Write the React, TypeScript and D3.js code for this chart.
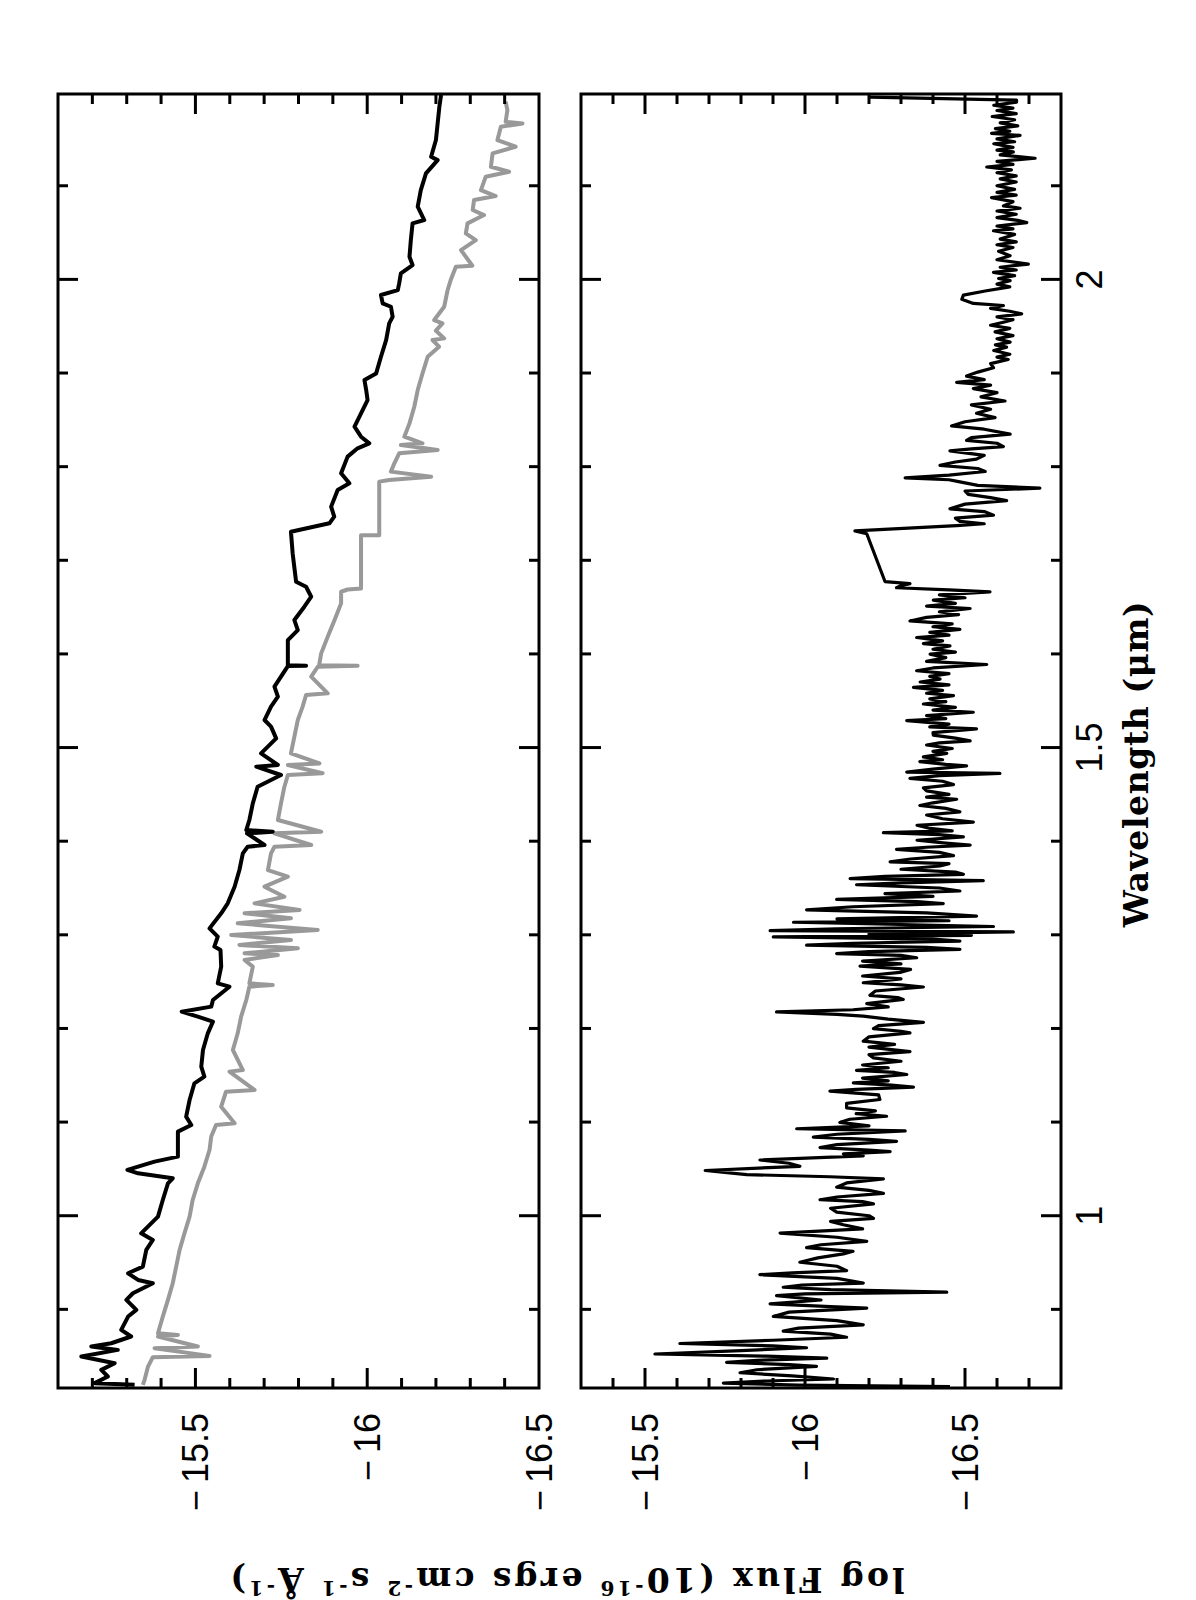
import React from "react";
import * as d3 from "d3";

// ---------- DATA (wavelength in micron, log flux) ----------
const topBlack: [number, number][] = [
  [2.197, -16.215], [2.1843, -16.21], [2.1666, -16.205], [2.1488, -16.2], [2.131, -16.186],
  [2.1274, -16.205], [2.1132, -16.171], [2.0954, -16.156], [2.0776, -16.147], [2.0634, -16.166],
  [2.0598, -16.132], [2.042, -16.127], [2.0242, -16.123], [2.0153, -16.132], [2.0064, -16.098],
  [1.9957, -16.093], [1.9886, -16.089], [1.9833, -16.04], [1.9744, -16.045], [1.9708, -16.069],
  [1.9601, -16.074], [1.953, -16.064], [1.9352, -16.055], [1.9174, -16.04], [1.8996, -16.026],
  [1.8925, -15.992], [1.8818, -15.997], [1.8711, -16.001], [1.8569, -15.982], [1.8427, -15.963],
  [1.832, -15.982], [1.8249, -16.006], [1.8196, -15.972], [1.8107, -15.943], [1.7929, -15.924],
  [1.7822, -15.948], [1.775, -15.914], [1.7573, -15.895], [1.7466, -15.904], [1.7395, -15.89],
  [1.7305, -15.778], [1.7073, -15.783], [1.6771, -15.793], [1.6717, -15.822], [1.6611, -15.837],
  [1.6504, -15.817], [1.6362, -15.788], [1.6255, -15.798], [1.6148, -15.769], [1.6006, -15.769],
  [1.5878, -15.769], [1.5874, -15.822], [1.587, -15.769], [1.5757, -15.749], [1.565, -15.73],
  [1.5543, -15.74], [1.5437, -15.72], [1.5294, -15.701], [1.5223, -15.72], [1.5098, -15.735],
  [1.4938, -15.691], [1.4814, -15.74], [1.4796, -15.677], [1.4707, -15.749], [1.4582, -15.681],
  [1.4404, -15.667], [1.4226, -15.657], [1.4119, -15.648], [1.4101, -15.725], [1.4084, -15.65],
  [1.3959, -15.701], [1.3941, -15.652], [1.387, -15.638], [1.3692, -15.628], [1.3514, -15.614],
  [1.3336, -15.594], [1.323, -15.575], [1.3069, -15.541], [1.298, -15.565], [1.2874, -15.555],
  [1.2837, -15.573], [1.266, -15.575], [1.2482, -15.565], [1.2446, -15.599], [1.2304, -15.551],
  [1.2233, -15.546], [1.2179, -15.46], [1.2126, -15.507], [1.2073, -15.551], [1.1948, -15.536],
  [1.177, -15.522], [1.1592, -15.517], [1.1485, -15.526], [1.1414, -15.497], [1.1236, -15.483],
  [1.1058, -15.473], [1.0969, -15.488], [1.0898, -15.449], [1.0702, -15.449], [1.0631, -15.449],
  [1.0578, -15.381], [1.0489, -15.302], [1.0453, -15.333], [1.04, -15.434], [1.0346, -15.42],
  [1.0168, -15.405], [0.999, -15.391], [0.9812, -15.342], [0.9741, -15.376], [0.9635, -15.357],
  [0.9457, -15.347], [0.9385, -15.304], [0.9314, -15.333], [0.9279, -15.376], [0.9172, -15.318],
  [0.9101, -15.299], [0.8994, -15.328], [0.8923, -15.304], [0.8781, -15.284], [0.871, -15.313],
  [0.8638, -15.255], [0.8603, -15.197], [0.8567, -15.274], [0.8496, -15.168], [0.8425, -15.265],
  [0.8354, -15.226], [0.8283, -15.245], [0.8212, -15.207], [0.8194, -15.323],
];

const topGray: [number, number][] = [
  [2.1897, -16.403], [2.1808, -16.408], [2.1684, -16.403], [2.1666, -16.452], [2.163, -16.389],
  [2.1488, -16.379], [2.1417, -16.432], [2.1346, -16.365], [2.1203, -16.36], [2.115, -16.413],
  [2.1097, -16.345], [2.0954, -16.331], [2.089, -16.374], [2.0848, -16.311], [2.0741, -16.307],
  [2.0687, -16.34], [2.0598, -16.292], [2.0491, -16.287], [2.042, -16.316], [2.0313, -16.273],
  [2.0146, -16.306], [2.0135, -16.258], [1.9993, -16.243], [1.9886, -16.234], [1.9708, -16.224],
  [1.9566, -16.195], [1.953, -16.219], [1.9452, -16.2], [1.937, -16.224], [1.9352, -16.19],
  [1.9281, -16.209], [1.9174, -16.176], [1.8996, -16.161], [1.8818, -16.147], [1.864, -16.137],
  [1.8462, -16.123], [1.832, -16.108], [1.8249, -16.161], [1.8231, -16.098], [1.8178, -16.205],
  [1.8142, -16.093], [1.8036, -16.079], [1.7947, -16.069], [1.7893, -16.186], [1.7858, -16.064],
  [1.784, -16.035], [1.7268, -16.035], [1.7268, -15.982], [1.6699, -15.982], [1.6688, -15.943],
  [1.6664, -15.924], [1.654, -15.924], [1.6362, -15.905], [1.6184, -15.885], [1.6006, -15.866],
  [1.5878, -15.86], [1.5874, -15.972], [1.5863, -15.856], [1.5757, -15.837], [1.5579, -15.885],
  [1.5561, -15.822], [1.5437, -15.812], [1.5294, -15.798], [1.5116, -15.788], [1.4938, -15.778],
  [1.4831, -15.861], [1.4814, -15.769], [1.4725, -15.87], [1.4707, -15.769], [1.4582, -15.759],
  [1.4404, -15.749], [1.4226, -15.74], [1.4101, -15.866], [1.4084, -15.73], [1.3959, -15.837],
  [1.3941, -15.73], [1.387, -15.72], [1.3692, -15.711], [1.3621, -15.769], [1.3514, -15.701],
  [1.3407, -15.759], [1.3336, -15.672], [1.3265, -15.803], [1.323, -15.643], [1.3176, -15.778],
  [1.3123, -15.623], [1.3052, -15.856], [1.2998, -15.604], [1.2945, -15.778], [1.2892, -15.628],
  [1.2856, -15.798], [1.2803, -15.643], [1.2784, -15.74], [1.2731, -15.643], [1.266, -15.667],
  [1.2482, -15.657], [1.2464, -15.725], [1.2446, -15.657], [1.2304, -15.648], [1.2126, -15.633],
  [1.1948, -15.623], [1.177, -15.609], [1.1556, -15.638], [1.1539, -15.599], [1.1343, -15.672],
  [1.1325, -15.589], [1.1165, -15.575], [1.0987, -15.614], [1.0969, -15.56], [1.0845, -15.546],
  [1.0702, -15.541], [1.0524, -15.526], [1.0346, -15.507], [1.0168, -15.492], [0.999, -15.483],
  [0.9812, -15.468], [0.9635, -15.454], [0.9457, -15.444], [0.9279, -15.434], [0.9101, -15.42],
  [0.8923, -15.405], [0.8745, -15.391], [0.8727, -15.449], [0.871, -15.391], [0.8603, -15.507],
  [0.8585, -15.381], [0.8503, -15.541], [0.8489, -15.376], [0.8389, -15.362], [0.8247, -15.352],
  [0.8194, -15.347],
];

const bottomBlack: [number, number][] = [
  [2.1946, -16.203], [2.1915, -16.661], [2.1893, -16.661], [2.186, -16.59], [2.183, -16.65],
  [2.1804, -16.6], [2.177, -16.66], [2.174, -16.585], [2.1705, -16.655], [2.1671, -16.61],
  [2.164, -16.665], [2.161, -16.595], [2.1582, -16.64], [2.156, -16.583], [2.1538, -16.672],
  [2.15, -16.6], [2.147, -16.655], [2.1449, -16.59], [2.141, -16.65], [2.138, -16.6],
  [2.1361, -16.651], [2.133, -16.61], [2.1294, -16.719], [2.126, -16.6], [2.1228, -16.65],
  [2.12, -16.568], [2.117, -16.645], [2.1139, -16.6], [2.1105, -16.66], [2.1073, -16.61],
  [2.104, -16.66], [2.1, -16.6], [2.0962, -16.655], [2.093, -16.6], [2.09, -16.66],
  [2.0873, -16.583], [2.083, -16.65], [2.0785, -16.62], [2.076, -16.672], [2.073, -16.6],
  [2.0696, -16.66], [2.066, -16.6], [2.063, -16.665], [2.0607, -16.693], [2.057, -16.6],
  [2.054, -16.65], [2.0519, -16.589], [2.048, -16.655], [2.043, -16.61], [2.04, -16.66],
  [2.037, -16.6], [2.0341, -16.65], [2.03, -16.605], [2.0253, -16.641], [2.021, -16.6],
  [2.0164, -16.698], [2.013, -16.61], [2.01, -16.66], [2.0075, -16.589], [2.004, -16.655],
  [2.001, -16.605], [1.9987, -16.641], [1.995, -16.6], [1.992, -16.64], [1.9876, -16.563],
  [1.9832, -16.495], [1.9787, -16.49], [1.9743, -16.526], [1.9721, -16.62], [1.969, -16.58],
  [1.966, -16.64], [1.9632, -16.677], [1.96, -16.6], [1.957, -16.65], [1.9543, -16.62],
  [1.951, -16.58], [1.9477, -16.64], [1.944, -16.594], [1.94, -16.65], [1.9366, -16.6],
  [1.933, -16.641], [1.93, -16.595], [1.9277, -16.63], [1.924, -16.59], [1.92, -16.64],
  [1.917, -16.6], [1.9145, -16.635], [1.91, -16.58], [1.9056, -16.589], [1.901, -16.54],
  [1.8967, -16.505], [1.893, -16.56], [1.8901, -16.474], [1.887, -16.58], [1.8834, -16.526],
  [1.879, -16.6], [1.8746, -16.55], [1.8701, -16.625], [1.866, -16.52], [1.8613, -16.58],
  [1.857, -16.536], [1.8524, -16.594], [1.848, -16.5], [1.8435, -16.458], [1.84, -16.56],
  [1.8347, -16.641], [1.831, -16.52], [1.828, -16.505], [1.825, -16.6], [1.8214, -16.62],
  [1.819, -16.52], [1.8169, -16.453], [1.812, -16.56], [1.8081, -16.536], [1.805, -16.47],
  [1.8014, -16.422], [1.798, -16.54], [1.7948, -16.563], [1.791, -16.45], [1.7881, -16.313],
  [1.786, -16.45], [1.7837, -16.484], [1.78, -16.54], [1.777, -16.734], [1.774, -16.5],
  [1.7704, -16.51], [1.767, -16.58], [1.7637, -16.63], [1.76, -16.5], [1.7549, -16.453],
  [1.752, -16.56], [1.7482, -16.589], [1.745, -16.47], [1.7416, -16.484], [1.739, -16.56],
  [1.7371, -16.474], [1.7314, -16.156], [1.7283, -16.193], [1.6773, -16.25], [1.6751, -16.328],
  [1.673, -16.3], [1.6707, -16.286], [1.6685, -16.45], [1.6662, -16.578], [1.663, -16.42],
  [1.66, -16.5], [1.6574, -16.401], [1.654, -16.47], [1.651, -16.38], [1.6485, -16.516],
  [1.645, -16.42], [1.642, -16.48], [1.639, -16.38], [1.6352, -16.328], [1.632, -16.46],
  [1.629, -16.4], [1.6263, -16.484], [1.623, -16.39], [1.62, -16.45], [1.6175, -16.349],
  [1.614, -16.43], [1.611, -16.37], [1.6086, -16.453], [1.605, -16.4], [1.602, -16.47],
  [1.5997, -16.391], [1.596, -16.44], [1.592, -16.38], [1.5887, -16.568], [1.585, -16.4],
  [1.582, -16.349], [1.579, -16.45], [1.576, -16.39], [1.5731, -16.422], [1.57, -16.36],
  [1.567, -16.45], [1.5643, -16.339], [1.561, -16.43], [1.558, -16.38], [1.5554, -16.464],
  [1.552, -16.39], [1.549, -16.44], [1.5465, -16.37], [1.543, -16.47], [1.54, -16.4],
  [1.5377, -16.526], [1.534, -16.38], [1.531, -16.44], [1.5288, -16.318], [1.525, -16.45],
  [1.522, -16.39], [1.5199, -16.536], [1.516, -16.4], [1.5133, -16.401], [1.51, -16.47],
  [1.5071, -16.516], [1.505, -16.42], [1.5027, -16.38], [1.499, -16.46], [1.496, -16.4],
  [1.4938, -16.443], [1.49, -16.37], [1.487, -16.43], [1.4849, -16.359], [1.482, -16.44],
  [1.4804, -16.505], [1.477, -16.4], [1.4737, -16.318], [1.4724, -16.609], [1.47, -16.42],
  [1.467, -16.328], [1.464, -16.43], [1.4604, -16.464], [1.457, -16.37], [1.4537, -16.38],
  [1.45, -16.45], [1.447, -16.38], [1.4448, -16.474], [1.441, -16.4], [1.4381, -16.359],
  [1.435, -16.44], [1.4314, -16.484], [1.428, -16.38], [1.424, -16.43], [1.4203, -16.526],
  [1.417, -16.35], [1.4136, -16.391], [1.411, -16.46], [1.4091, -16.245], [1.407, -16.42],
  [1.4047, -16.495], [1.401, -16.35], [1.398, -16.44], [1.3958, -16.516], [1.3935, -16.38],
  [1.3913, -16.286], [1.388, -16.42], [1.3846, -16.464], [1.381, -16.33], [1.378, -16.266],
  [1.376, -16.45], [1.3735, -16.422], [1.37, -16.3], [1.367, -16.47], [1.3646, -16.495],
  [1.3625, -16.25], [1.3601, -16.141], [1.3579, -16.557], [1.3555, -16.3], [1.3535, -16.161],
  [1.35, -16.42], [1.3468, -16.484], [1.344, -16.25], [1.341, -16.4], [1.3379, -16.099],
  [1.3355, -16.35], [1.3334, -16.432], [1.33, -16.15], [1.3267, -16.005], [1.3235, -16.38],
  [1.32, -16.536], [1.317, -16.1], [1.315, -16.45], [1.3134, -15.964], [1.311, -16.3],
  [1.3089, -16.589], [1.3065, -16.1], [1.3044, -15.891], [1.3031, -16.651], [1.301, -16.2],
  [1.2995, -16.52], [1.2978, -15.901], [1.2955, -16.4], [1.2933, -16.484], [1.291, -16.15],
  [1.2889, -16.005], [1.2865, -16.38], [1.2844, -16.484], [1.282, -16.2], [1.28, -16.099],
  [1.278, -16.3], [1.2755, -16.349], [1.272, -16.18], [1.269, -16.3], [1.2666, -16.172],
  [1.263, -16.33], [1.2599, -16.297], [1.256, -16.18], [1.253, -16.3], [1.2488, -16.182],
  [1.2465, -16.3], [1.2443, -16.37], [1.24, -16.22], [1.2354, -16.203], [1.233, -16.29],
  [1.231, -16.307], [1.2265, -16.193], [1.223, -16.26], [1.22, -16.15], [1.2176, -15.911],
  [1.215, -16.1], [1.2131, -16.182], [1.21, -16.26], [1.2065, -16.37], [1.203, -16.23],
  [1.1998, -16.214], [1.197, -16.3], [1.1953, -16.328], [1.191, -16.2], [1.1864, -16.182],
  [1.183, -16.28], [1.18, -16.2], [1.1753, -16.328], [1.172, -16.2], [1.1686, -16.214],
  [1.165, -16.3], [1.161, -16.18], [1.158, -16.26], [1.1552, -16.161], [1.153, -16.28],
  [1.1508, -16.318], [1.147, -16.18], [1.144, -16.26], [1.1419, -16.151], [1.1395, -16.27],
  [1.1374, -16.339], [1.135, -16.16], [1.133, -16.078], [1.129, -16.23], [1.1241, -16.234],
  [1.12, -16.13], [1.1151, -16.13], [1.112, -16.22], [1.109, -16.16], [1.1062, -16.255],
  [1.103, -16.14], [1.0996, -16.109], [1.096, -16.2], [1.0929, -15.974], [1.0906, -16.313],
  [1.087, -16.1], [1.084, -16.026], [1.0815, -16.2], [1.0795, -16.286], [1.076, -16.1],
  [1.0728, -16.047], [1.07, -16.2], [1.0684, -16.266], [1.066, -16.12], [1.0639, -16.182],
  [1.0595, -15.859], [1.056, -15.95], [1.0528, -15.984], [1.0483, -15.688], [1.0439, -15.818],
  [1.0416, -16.078], [1.0394, -16.245], [1.035, -16.13], [1.0305, -16.099], [1.027, -16.2],
  [1.0238, -16.245], [1.02, -16.1], [1.0171, -16.047], [1.015, -16.18], [1.0127, -16.214],
  [1.008, -16.08], [1.0038, -16.099], [1.0, -16.2], [0.9971, -16.214], [0.994, -16.08],
  [0.9904, -16.12], [0.986, -16.18], [0.9815, -15.922], [0.977, -16.1], [0.9726, -16.193],
  [0.969, -16.05], [0.9659, -16.005], [0.962, -16.15], [0.9592, -16.12], [0.955, -16.04],
  [0.9503, -15.984], [0.946, -16.1], [0.9414, -16.13], [0.939, -15.96], [0.937, -15.859],
  [0.933, -16.1], [0.9281, -16.182], [0.926, -15.99], [0.9236, -15.932], [0.921, -16.08],
  [0.9183, -16.443], [0.9165, -16.0], [0.9147, -15.911], [0.91, -16.05], [0.9058, -15.891],
  [0.903, -16.08], [0.9013, -16.193], [0.897, -15.95], [0.8924, -15.901], [0.888, -16.1],
  [0.8835, -16.182], [0.88, -15.98], [0.8768, -15.932], [0.8735, -16.08], [0.8702, -16.13],
  [0.867, -15.9], [0.8635, -15.609], [0.861, -15.9], [0.859, -16.005], [0.856, -15.8],
  [0.8523, -15.531], [0.85, -15.88], [0.8479, -16.068], [0.8455, -15.85], [0.8434, -15.755],
  [0.841, -15.95], [0.839, -16.036], [0.8355, -15.85], [0.8323, -15.797], [0.829, -15.96],
  [0.8256, -16.089], [0.8235, -15.88], [0.8212, -15.745], [0.819, -15.98], [0.8176, -16.453],
];

const waveMinor = [0.9, 1.0, 1.1, 1.2, 1.3, 1.4, 1.5, 1.6, 1.7, 1.8, 1.9, 2.0, 2.1];
const waveMajor = [1, 1.5, 2];
const waveLabels = ["1", "1.5", "2"];
const topFluxMinor = [-15.2, -15.3, -15.4, -15.5, -15.6, -15.7, -15.8, -15.9, -16.0, -16.1, -16.2, -16.3, -16.4];
const bottomFluxMinor = [-15.4, -15.5, -15.6, -15.7, -15.8, -15.9, -16.0, -16.1, -16.2, -16.3, -16.4, -16.5, -16.6, -16.7];
const fluxMajor = [-15.5, -16, -16.5];
const fluxLabels = ["15.5", "16", "16.5"];

// ---------- LAYOUT (landscape frame, rotated onto the page) ----------
const PAGE_W = 1196;
const PAGE_H = 1600;
const X0 = 212;
const X1 = 1506;
const TOP = { y0: 58, y1: 539, domain: [-16.5, -15.1] };
const BOT = { y0: 581, y1: 1061, domain: [-16.8, -15.3] };
const MAJOR_LEN = 20;
const MINOR_LEN = 10;
const TITLE_FONT = "'DejaVu Serif', 'Liberation Serif', serif";

export default function App() {
  const x = d3.scaleLinear().domain([0.816, 2.198]).range([X0, X1]);
  const yTop = d3.scaleLinear().domain(TOP.domain).range([TOP.y1, TOP.y0]);
  const yBot = d3.scaleLinear().domain(BOT.domain).range([BOT.y1, BOT.y0]);

  const lineTop = d3.line<[number, number]>().x((d) => x(d[0])).y((d) => yTop(d[1]));
  const lineBot = d3.line<[number, number]>().x((d) => x(d[0])).y((d) => yBot(d[1]));

  const panel = (
    key: string,
    y: d3.ScaleLinear<number, number>,
    p: { y0: number; y1: number },
    fluxMinor: number[]
  ) => {
    const ticks: React.ReactNode[] = [];
    const isMajW = (v: number) => waveMajor.some((m) => Math.abs(m - v) < 1e-6);
    const isMajF = (v: number) => fluxMajor.some((m) => Math.abs(m - v) < 1e-6);
    waveMinor.forEach((v, i) => {
      const len = isMajW(v) ? MAJOR_LEN : MINOR_LEN;
      const xx = x(v);
      ticks.push(<line key={`wt${i}`} x1={xx} x2={xx} y1={p.y0} y2={p.y0 + len} />);
      ticks.push(<line key={`wb${i}`} x1={xx} x2={xx} y1={p.y1} y2={p.y1 - len} />);
    });
    fluxMinor.forEach((v, i) => {
      const len = isMajF(v) ? MAJOR_LEN : MINOR_LEN;
      const yy = y(v);
      ticks.push(<line key={`fl${i}`} x1={X0} x2={X0 + len} y1={yy} y2={yy} />);
      ticks.push(<line key={`fr${i}`} x1={X1} x2={X1 - len} y1={yy} y2={yy} />);
    });
    return (
      <g key={key} stroke="#000" strokeWidth={3} fill="none">
        {ticks}
        <rect x={X0} y={p.y0} width={X1 - X0} height={p.y1 - p.y0} />
      </g>
    );
  };

  const fluxLabelEls = (y: d3.ScaleLinear<number, number>, key: string) =>
    fluxMajor.map((v, i) => (
      <text
        key={`${key}${i}`}
        x={187}
        y={y(v) + 13}
        textAnchor="end"
        fontFamily="'Liberation Sans', Arial, sans-serif"
        fontSize={36}
        fill="#000"
      >
        <tspan>−</tspan>
        <tspan dx={7}>{fluxLabels[i]}</tspan>
      </text>
    ));

  return (
    <svg
      width={PAGE_W}
      height={PAGE_H}
      style={{ position: "absolute", left: 0, top: 0, background: "#fff" }}
    >
      <rect x={0} y={0} width={PAGE_W} height={PAGE_H} fill="#fff" />
      <g transform={`translate(0,${PAGE_H}) rotate(-90)`}>
        {/* spectra */}
        <path d={lineTop(topGray) || ""} fill="none" stroke="#999999" strokeWidth={4} strokeLinejoin="round" />
        <path d={lineTop(topBlack) || ""} fill="none" stroke="#000" strokeWidth={4} strokeLinejoin="round" />
        <path d={lineBot(bottomBlack) || ""} fill="none" stroke="#000" strokeWidth={3.2} strokeLinejoin="round" />

        {panel("top", yTop, TOP, topFluxMinor)}
        {panel("bot", yBot, BOT, bottomFluxMinor)}

        {fluxLabelEls(yTop, "lt")}
        {fluxLabelEls(yBot, "lb")}

        {waveMajor.map((v, i) => (
          <text
            key={`wl${i}`}
            x={x(v)}
            y={1102}
            textAnchor="middle"
            fontFamily="'Liberation Sans', Arial, sans-serif"
            fontSize={36}
            fill="#000"
          >
            {waveLabels[i]}
          </text>
        ))}

        <text
          x={836}
          y={1148}
          textAnchor="middle"
          fontFamily={TITLE_FONT}
          fontWeight="bold"
          fontSize={33}
          letterSpacing={0.6}
          fill="#000"
        >
          Wavelength (μm)
        </text>

        <text
          transform="translate(32,566) rotate(-90)"
          textAnchor="middle"
          fontFamily={TITLE_FONT}
          fontWeight="bold"
          fontSize={33}
          letterSpacing={3.3}
          fill="#000"
        >
          <tspan>log Flux (10</tspan>
          <tspan fontSize={20} dy={-13}>-16</tspan>
          <tspan dy={13}> ergs cm</tspan>
          <tspan fontSize={20} dy={-13}>-2</tspan>
          <tspan dy={13}> s</tspan>
          <tspan fontSize={20} dy={-13}>-1</tspan>
          <tspan dy={13}> Å</tspan>
          <tspan fontSize={20} dy={-13}>-1</tspan>
          <tspan dy={13}>)</tspan>
        </text>
      </g>
    </svg>
  );
}
